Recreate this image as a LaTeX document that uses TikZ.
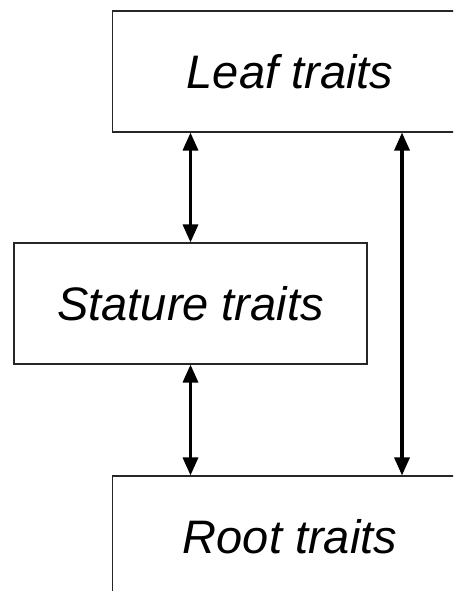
\documentclass[tikz,border=0pt]{standalone}
\usepackage{fontspec}
\setmainfont{Liberation Sans}
\usetikzlibrary{arrows.meta,calc}
\tikzset{
  traitbox/.style={draw=black!85, line width=1.1pt, fill=white, rectangle,
    minimum width=355pt, minimum height=121pt, inner sep=0pt,
    font=\fontsize{47}{56}\selectfont\itshape},
  link/.style={line width=3.3pt, {Triangle[length=18pt,width=15pt]}-{Triangle[length=18pt,width=15pt]}}
}
\begin{document}
\begin{tikzpicture}[x=1pt,y=-1pt]
  \useasboundingbox (0,0) rectangle (453,591);
  \clip (0,0) rectangle (453,591);
  \fill[white] (0,0) rectangle (453,591);
  % trait boxes
  \node[traitbox] (leaf) at (290,71.5) {Leaf traits};
  \node[traitbox, minimum width=353pt] (stature) at (190.5,303.5) {Stature traits};
  \node[traitbox] (root) at (290,536.5) {Root traits};
  % links between the trait groups
  \draw[link] (leaf.south -| stature.north) -- (stature.north);
  \draw[link] (stature.south) -- (root.north -| stature.south);
  \coordinate (rtop) at ($(leaf.south)+(112,0)$);
  \draw[link] (rtop) -- (rtop |- root.north);
\end{tikzpicture}
\end{document}
